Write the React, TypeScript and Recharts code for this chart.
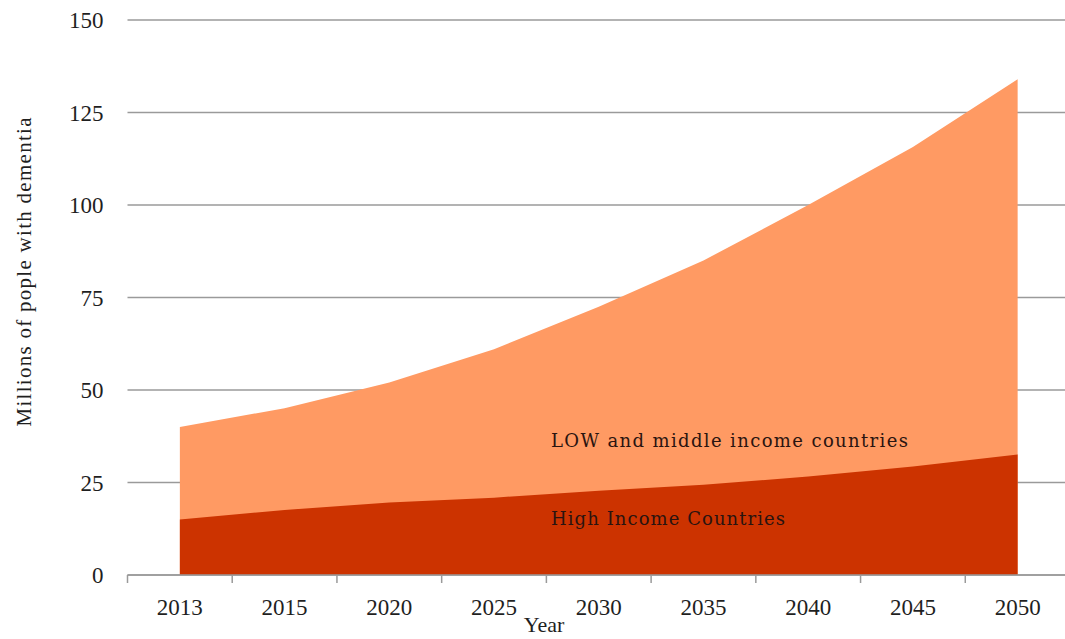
import React from 'react';
import { ComposedChart, Area, XAxis, YAxis, CartesianGrid } from 'recharts';

const years = ['2013', '2015', '2020', '2025', '2030', '2035', '2040', '2045', '2050'];
const allCountries = [40, 45.1, 52, 61, 72.5, 85, 100, 115.7, 134];
const highIncome = [15, 17.6, 19.6, 20.9, 22.8, 24.4, 26.6, 29.3, 32.6];
const yTicks = [0, 25, 50, 75, 100, 125, 150];

const data = years.map((year, i) => ({ year, all: allCountries[i], high: highIncome[i] }));

const FONT = '"Liberation Serif", "Times New Roman", serif';
const LABEL_FONT = '"DejaVu Serif", "Liberation Serif", serif';
const TEXT = '#1f1f1f';
const GRID = '#9a9a9a';

function XTick(props: any) {
  const { x, y, payload } = props;
  const half = payload && typeof payload.offset === 'number' && payload.offset > 0 ? payload.offset : 52.36;
  return (
    <g>
      <line x1={x - half} x2={x - half} y1={y - 8} y2={y} stroke={GRID} strokeWidth={1.5} />
      <text x={x} y={y} dy={32} textAnchor="middle" fontFamily={FONT} fontSize={23} fill={TEXT}>
        {payload.value}
      </text>
    </g>
  );
}

function YTick(props: any) {
  const { x, y, payload } = props;
  return (
    <text x={x} y={y} dy={8} textAnchor="end" fontFamily={FONT} fontSize={23} fill={TEXT}>
      {payload.value}
    </text>
  );
}

function Annotations() {
  return (
    <svg
      width={1065}
      height={639}
      style={{ position: 'absolute', left: 0, top: 0, pointerEvents: 'none' }}
    >
      <text x={551} y={447} fontFamily={LABEL_FONT} fontSize={18} fill="#2a1410" textLength={357} lengthAdjust="spacing">
        LOW and middle income  countries
      </text>
      <text x={551} y={525} fontFamily={LABEL_FONT} fontSize={18} fill="#2a1410" textLength={234} lengthAdjust="spacing">
        High Income Countries
      </text>
      <text x={544} y={632} textAnchor="middle" fontFamily={FONT} fontSize={22} fill={TEXT}>
        Year
      </text>
      <text
        x={0}
        y={0}
        transform="translate(31,272) rotate(-90)"
        textAnchor="middle"
        fontFamily={FONT}
        fontSize={21}
        fill={TEXT}
        textLength={309}
        lengthAdjust="spacing"
      >
        Millions of pople with dementia
      </text>
    </svg>
  );
}

export default function App() {
  return (
    <div style={{ position: 'absolute', left: 0, top: 0, width: 1065, height: 639, overflow: 'hidden', background: '#fff' }}>
      <ComposedChart width={1080} height={639} data={data} margin={{ top: 20, right: 10, bottom: 24, left: 0 }}>
        <CartesianGrid vertical={false} stroke={GRID} strokeWidth={1.5} />
        <XAxis
          dataKey="year"
          scale="band"
          height={40}
          tickLine={false}
          tickSize={8}
          tickMargin={0}
          axisLine={{ stroke: GRID, strokeWidth: 1.5 }}
          tick={<XTick />}
          interval={0}
        />
        <YAxis
          width={127.5}
          domain={[0, 150]}
          ticks={yTicks}
          axisLine={false}
          tickLine={false}
          tickSize={0}
          tickMargin={24}
          tick={<YTick />}
        />
        <Area
          dataKey="all"
          type="linear"
          fill="#FF9A63"
          fillOpacity={1}
          stroke="none"
          isAnimationActive={false}
          name="LOW and middle income countries"
        />
        <Area
          dataKey="high"
          type="linear"
          fill="#CC3300"
          fillOpacity={1}
          stroke="none"
          isAnimationActive={false}
          name="High Income Countries"
        />
      </ComposedChart>
      <Annotations />
    </div>
  );
}
